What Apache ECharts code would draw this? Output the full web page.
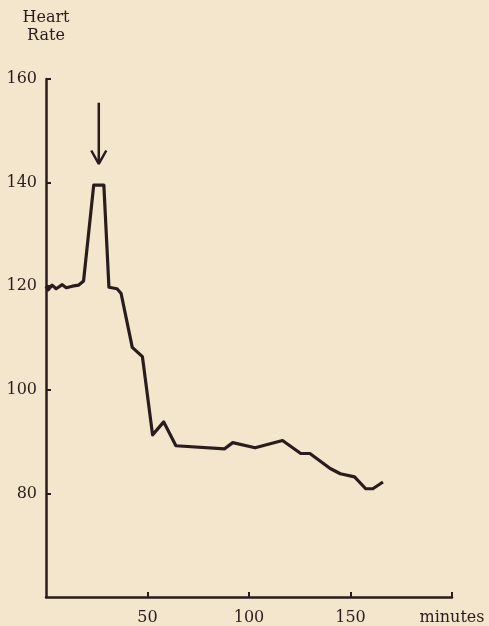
<!DOCTYPE html>
<html><head><meta charset="utf-8">
<script src="https://cdn.jsdelivr.net/npm/echarts@6/dist/echarts.min.js"></script>
<style>html,body{margin:0;padding:0;background:#f3e6cd}#c{width:489px;height:626px}</style>
</head><body><div id="c"></div>
<script>
const minutes = [0,1,3,5,8,10,13,16,18.5,23.5,28.5,31,35,37,42.5,47.5,52.5,58,64,88,92,103,116.5,125.5,130,140,145,152,157.5,161,166];
const heartRate = [120,119.3,120.2,119.5,120.3,119.7,120,120.2,121,139.5,139.5,119.8,119.5,118.6,108.2,106.4,91.3,93.8,89.2,88.6,89.8,88.8,90.2,87.7,87.7,84.8,83.8,83.2,80.9,80.9,82.2];
const yTicks = [60,80,100,120,140,160];
const xTicks = [0,50,100,150,200];
const arrowShaft = [[26,155.4],[26,143.6]];
const arrowHead = [[22.3,146.2],[26,143.6],[29.7,146.2]];

const ink = '#2a1c1c';
const font = '"DejaVu Serif","Liberation Serif",serif';
const chart = echarts.init(document.getElementById('c'));
chart.setOption({
  backgroundColor: '#f3e6cd',
  animation: false,
  grid: {left: 46, right: 37, top: 79, bottom: 28},
  xAxis: {
    type: 'value', min: xTicks[0], max: xTicks[xTicks.length-1], interval: 50,
    axisLine: {lineStyle: {color: ink, width: 2.5}},
    axisTick: {inside: true, length: 5, lineStyle: {color: ink, width: 2}},
    splitLine: {show: false},
    axisLabel: {showMinLabel: false, color: ink, fontFamily: font, fontSize: 16, margin: 13,
      formatter: v => v === 200 ? 'minutes' : String(v)}
  },
  yAxis: {
    type: 'value', min: yTicks[0], max: yTicks[yTicks.length-1], interval: 20,
    name: 'Heart\nRate', nameLocation: 'end', nameGap: 34,
    nameTextStyle: {color: ink, fontFamily: font, fontSize: 16, align: 'center', lineHeight: 18, padding: [0,0,0,0]},
    axisLine: {lineStyle: {color: ink, width: 2.5}},
    axisTick: {inside: true, length: 5, lineStyle: {color: ink, width: 2}},
    splitLine: {show: false},
    axisLabel: {showMinLabel: false, color: ink, fontFamily: font, fontSize: 16, margin: 9}
  },
  series: [
    {type: 'line', data: minutes.map((m,i)=>[m, heartRate[i]]), showSymbol: false, symbol: 'none',
     lineStyle: {color: ink, width: 3.2, join: 'round'}},
    {type: 'line', data: arrowShaft, symbol: 'none', lineStyle: {color: ink, width: 2.5}},
    {type: 'line', data: arrowHead, symbol: 'none', lineStyle: {color: ink, width: 2.5}}
  ]
});
</script></body></html>
